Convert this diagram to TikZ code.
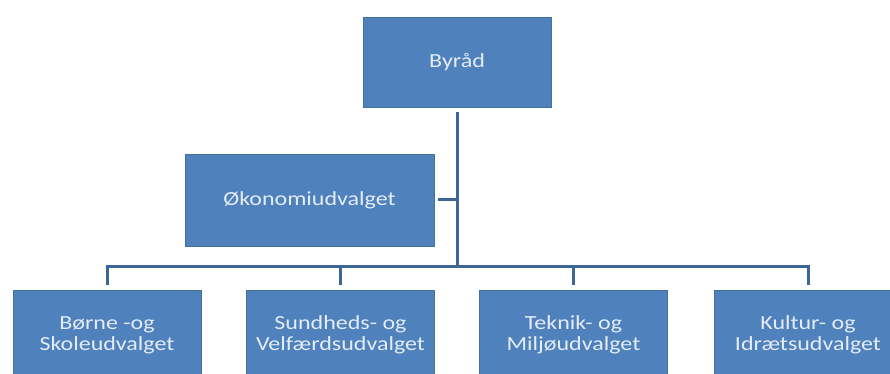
\documentclass[tikz,border=0pt]{standalone}
\usepackage{fontspec}
\setmainfont[FakeStretch=1.2]{Carlito}
\definecolor{boxfill}{HTML}{4F81BD}
\definecolor{boxedge}{HTML}{41719C}
\definecolor{linec}{HTML}{3D6597}
\definecolor{txt}{HTML}{E4ECF6}
\begin{document}
\begin{tikzpicture}[x=1pt,y=1pt,
  orgbox/.style={draw=boxedge, line width=0.8pt, fill=boxfill, text=txt,
    minimum width=188pt, minimum height=90pt, align=center, inner sep=0pt,
    font=\fontsize{20pt}{21pt}\selectfont},
  conn/.style={draw=linec, line width=3pt}]
\useasboundingbox (0,0) rectangle (890,374);
\clip (0,0) rectangle (890,374);
\node[orgbox] (byrad) at (457,312) {Byråd};
\node[orgbox, minimum width=249pt, minimum height=92pt] (okon) at (309.5,174) {Økonomiudvalget};
\node[orgbox] (b1) at (107,39) {Børne -og\\Skoleudvalget};
\node[orgbox] (b2) at (340.5,39) {Sundheds- og\\Velfærdsudvalget};
\node[orgbox] (b3) at (573.5,39) {Teknik- og\\Miljøudvalget};
\node[orgbox] (b4) at (808,39) {Kultur- og\\Idrætsudvalget};
\coordinate (hub) at (457,107);
\draw[conn, shorten <=5pt] (byrad.south) -- (hub);
\draw[conn, shorten <=4pt] (okon.east) -- (okon.east -| hub);
\draw[conn, shorten <=5pt] (b1.north) |- (hub) -| ([yshift=5pt]b4.north);
\draw[conn, shorten <=5pt] (b2.north) -- (b2.north |- hub);
\draw[conn, shorten <=5pt] (b3.north) -- (b3.north |- hub);
\end{tikzpicture}
\end{document}
